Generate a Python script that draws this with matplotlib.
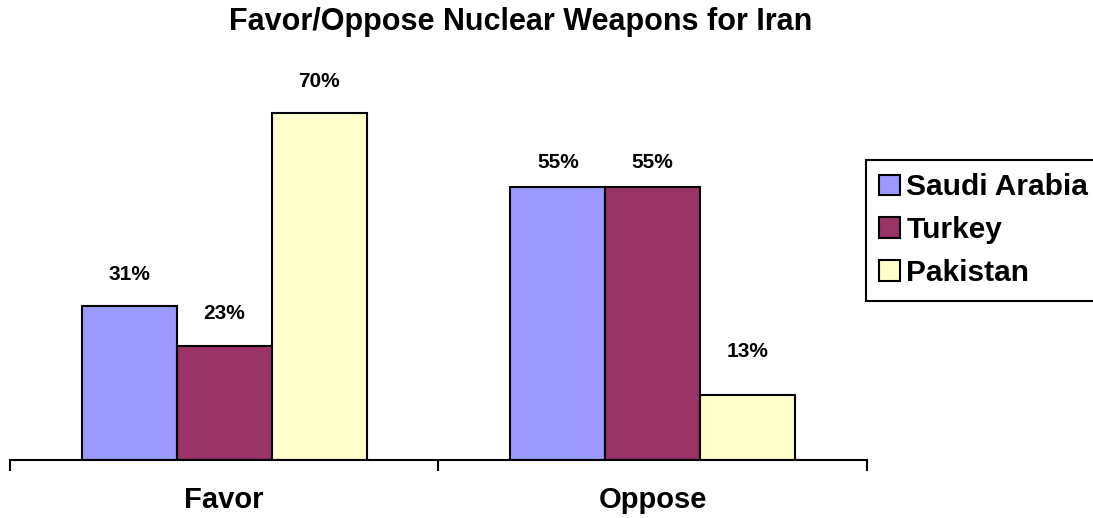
import numpy as np
import matplotlib.pyplot as plt

# данные
categories = ['Favor', 'Oppose']
countries = ['Saudi Arabia', 'Turkey', 'Pakistan']
saudi = [31, 55]
turkey = [23, 55]
pakistan = [70, 13]
values = [saudi, turkey, pakistan]

colors = ['#9999FF', '#993366', '#FFFFCC']
# смещение подписей над столбцами (пиксели), как в исходнике
label_offsets = [[32, 25], [32, 25], [31, 44]]

plt.rcParams['font.family'] = ['Liberation Sans', 'DejaVu Sans']
plt.rcParams['font.weight'] = 'bold'

fig = plt.figure(figsize=(10.93, 5.18), dpi=100)
ax = fig.add_axes([10 / 1093, 58 / 518, 857 / 1093, 397 / 518])

x = np.arange(len(categories))
width = 0.2214
for i, (name, vals) in enumerate(zip(countries, values)):
    pos = x + (i - 1) * width
    bars = ax.bar(pos, vals, width, color=colors[i], edgecolor='black',
                  linewidth=1.5, label=name, zorder=2)
    for b, v, off in zip(bars, vals, label_offsets[i]):
        ax.annotate(f'{v}%', (b.get_x() + b.get_width() / 2, v),
                    xytext=(0, off), textcoords='offset pixels',
                    ha='center', va='center', fontsize=15, fontweight='bold')

ax.set_xlim(-0.5, 1.5)
ax.set_ylim(0, 80)
for s in ['top', 'right', 'left']:
    ax.spines[s].set_visible(False)
ax.spines['bottom'].set_linewidth(1.5)
ax.set_yticks([])
ax.set_xticks(x)
ax.set_xticklabels(categories, fontsize=21, fontweight='bold')
ax.tick_params(axis='x', which='major', length=0, pad=19)
ax.set_xticks([-0.5, 0.5, 1.5], minor=True)
ax.tick_params(axis='x', which='minor', length=8, width=1.5, direction='out')

fig.text(521 / 1093, 1 - 22 / 518, 'Favor/Oppose Nuclear Weapons for Iran',
         ha='center', va='center', fontsize=22, fontweight='bold')

leg = fig.legend(loc='upper left',
                 bbox_to_anchor=(866 / 1093, 1 - 297 / 518, 240 / 1093, 137 / 518),
                 mode='expand',
                 prop={'size': 21.5, 'weight': 'bold'}, frameon=True,
                 fancybox=False, edgecolor='black', framealpha=1,
                 handlelength=0.7, handleheight=0.7, handletextpad=0.2,
                 borderpad=0.45, labelspacing=0.5, borderaxespad=0)
leg.get_frame().set_linewidth(1.5)

fig.savefig('out.png', dpi=100)
